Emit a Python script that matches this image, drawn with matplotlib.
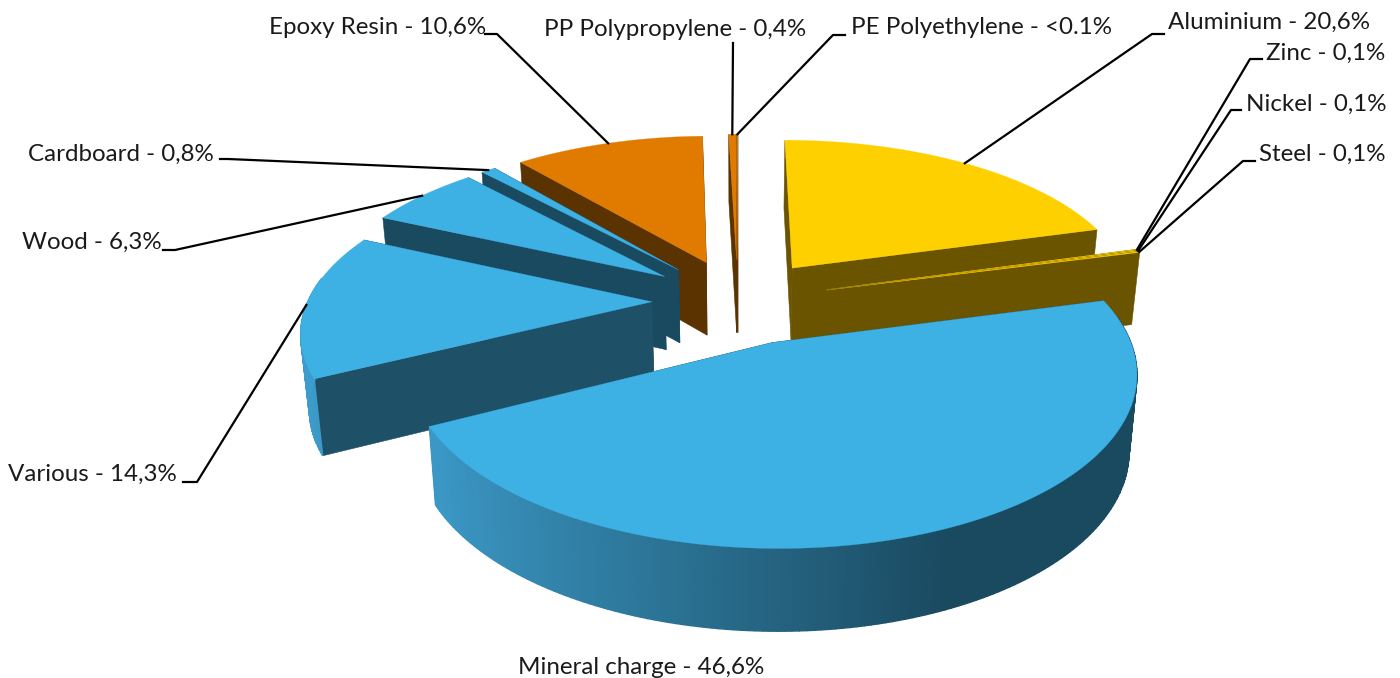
import numpy as np
import matplotlib
matplotlib.use('Agg')
import matplotlib.pyplot as plt
from matplotlib.colors import to_rgb

labels = ['Aluminium - 20,6%', 'Zinc - 0,1%', 'Nickel - 0,1%', 'Steel - 0,1%',
          'Mineral charge - 46,6%', 'Various - 14,3%', 'Wood - 6,3%',
          'Cardboard - 0,8%', 'Epoxy Resin - 10,6%', 'PP Polypropylene - 0,4%',
          'PE Polyethylene - <0.1%']
values = [20.6, 0.1, 0.1, 0.1, 46.6, 14.3, 6.3, 0.8, 10.6, 0.4, 0.05]

top_colors = ['#FFD000', '#FFD000', '#FFD000', '#FFD000', '#3DB0E4', '#3DB0E4',
              '#3DB0E4', '#3DB0E4', '#E07B00', '#E07B00', '#E07B00']
side_colors = ['#6B5400', '#6B5400', '#6B5400', '#6B5400', '#1E5068', '#1E5068',
               '#1A4A60', '#1A4A60', '#5A3300', '#5A3300', '#5A3300']
explodes = [0.27, 0.27, 0.27, 0.27, 0.27, 0.25, 0.27, 0.27, 0.27, 0.27, 0.27]

# text x, text y, horizontal alignment and elbow of each leader line
label_pos = [(1168, 22, 'left'), (1266, 53, 'left'), (1246, 104, 'left'), (1259, 154, 'left'),
             (641, 667, 'center'), (8, 474, 'left'), (22, 242, 'left'),
             (28, 154, 'left'), (269, 28, 'left'), (544, 30, 'left'), (851, 28, 'left')]
elbows = [[(1152, 34), (1164, 34)], [(1250, 59), (1262, 59)], [(1231, 110), (1241, 110)],
          [(1243, 161), (1255, 161)], None, [(197, 482), (183, 482)], [(175, 250), (163, 250)],
          [(228, 159), (220, 159)], [(497, 34), (485, 34)], [(733, 43)], [(833, 35), (845, 35)]]

# projection of the tilted pie
cx, cy = 738, 301
ax_r, ay_r = 344, 158
persp = 0.16
height = 74


def project(X, Y):
    w = 1 + persp * Y
    return cx + ax_r * X / w, cy - ay_r * Y / w


def drop(x, y, X, Y):
    # lower edge of the wall under a point of the top face
    w = 1 + persp * Y
    return cx + (x - cx) * 0.98, y + height / np.sqrt(w)


def shade(a):
    # wall colour goes from light on the left to dark on the right
    t = np.clip((np.sin(a) + 0.95) / 1.35, 0, 1)
    c0 = np.array(to_rgb('#3D9CCB'))
    c1 = np.array(to_rgb('#1A4A60'))
    return tuple(c0 + (c1 - c0) * t)


fig = plt.figure(figsize=(14, 6.78), dpi=100)
ax = fig.add_axes([0, 0, 1, 1])
ax.set_xlim(0, 1400)
ax.set_ylim(678, 0)
ax.axis('off')

fracs = np.array(values) / sum(values)
ends = np.cumsum(fracs) * 2 * np.pi
starts = ends - fracs * 2 * np.pi
mids = (starts + ends) / 2

# far slices first, the near ones paint over them
order = np.argsort(-np.cos(mids))
for i in order:
    ex, ey = explodes[i] * np.sin(mids[i]), explodes[i] * np.cos(mids[i])
    n = max(3, int(np.degrees(ends[i] - starts[i])) + 2)
    ang = np.linspace(starts[i], ends[i], n)
    X = np.sin(ang) + ex
    Y = np.cos(ang) + ey
    x, y = project(X, Y)
    bx, by = drop(x, y, X, Y)
    ax0, ay0 = project(ex, ey)
    bx0, by0 = drop(ax0, ay0, ex, ey)

    # cut faces
    for k in (0, -1):
        ax.fill([ax0, x[k], bx[k], bx0], [ay0, y[k], by[k], by0],
                color=side_colors[i], lw=0.4, zorder=1)
    # outer wall, only the part turned to the viewer
    for j in range(n - 1):
        if np.cos((ang[j] + ang[j + 1]) / 2) > 0.15:
            continue
        c = shade((ang[j] + ang[j + 1]) / 2) if top_colors[i] == '#3DB0E4' else side_colors[i]
        ax.fill([x[j], x[j + 1], bx[j + 1], bx[j]], [y[j], y[j + 1], by[j + 1], by[j]],
                color=c, lw=1.0, zorder=1)
    # top face
    ax.fill(np.r_[ax0, x], np.r_[ay0, y], color=top_colors[i], lw=0.2, zorder=1)

# leader lines and labels
for i in range(len(labels)):
    tx, ty, ha = label_pos[i]
    ax.text(tx, ty, labels[i], ha=ha, va='center', fontsize=17.35, family='Lato', color='#1a1a1a')
    if elbows[i] is None:
        continue
    ex, ey = explodes[i] * np.sin(mids[i]), explodes[i] * np.cos(mids[i])
    px, py = project(np.sin(mids[i]) + ex, np.cos(mids[i]) + ey)
    pts = [(px, py)] + elbows[i]
    ax.plot([p[0] for p in pts], [p[1] for p in pts], color='black', lw=1.6, zorder=3)

fig.savefig('out.png', dpi=100)
